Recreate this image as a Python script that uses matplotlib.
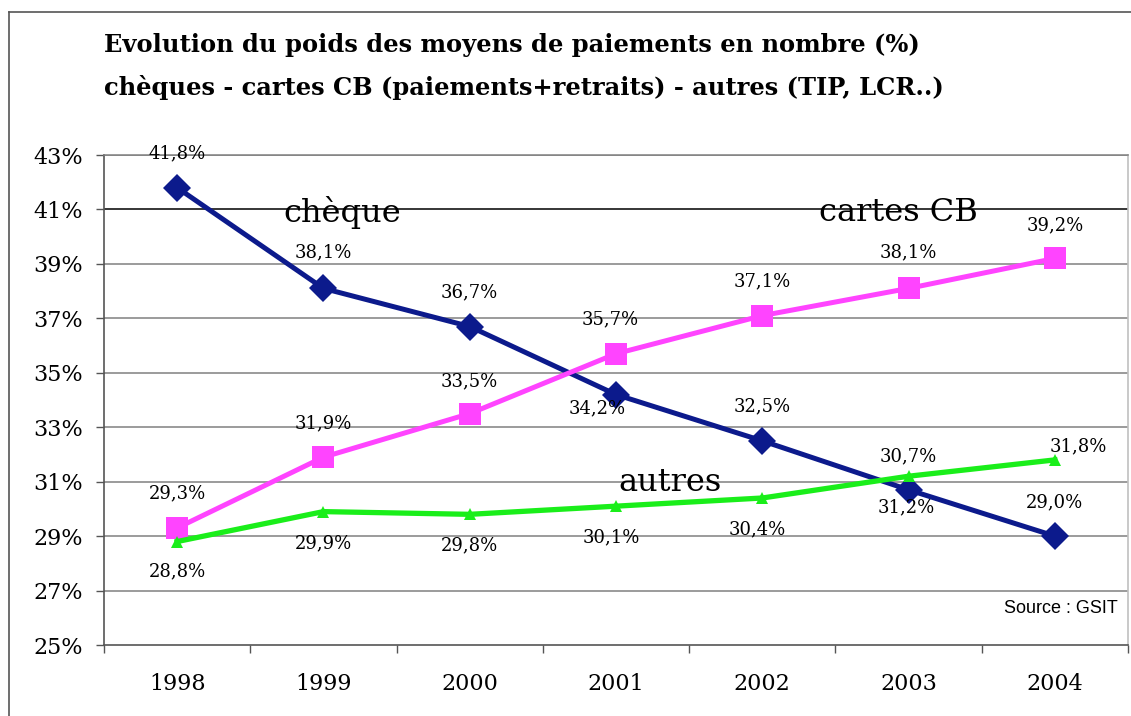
import matplotlib
matplotlib.use("Agg")
import matplotlib.pyplot as plt
from matplotlib.lines import Line2D

years = ['1998', '1999', '2000', '2001', '2002', '2003', '2004']
cheque = [41.8, 38.1, 36.7, 34.2, 32.5, 30.7, 29.0]
cartes = [29.3, 31.9, 33.5, 35.7, 37.1, 38.1, 39.2]
autres = [28.8, 29.9, 29.8, 30.1, 30.4, 31.2, 31.8]
yticks = [25, 27, 29, 31, 33, 35, 37, 39, 41, 43]

c_cheque = '#0c1a8c'
c_cartes = '#ff44ff'
c_autres = '#1aee1a'
serif = 'DejaVu Serif'

W, H = 1131, 716
fig = plt.figure(figsize=(W / 100, H / 100), dpi=100, facecolor='white')
ax = fig.add_axes([104 / W, 1 - 645 / H, (1128 - 104) / W, (645 - 155) / H])

x = list(range(len(years)))

# grid
for v in yticks[1:]:
    ax.axhline(v, color='black' if v == 41 else '#808080', lw=1.1, zorder=1)

ax.plot(x, cheque, color=c_cheque, lw=3.6, marker='D', markersize=14,
        markeredgewidth=0, zorder=3)
ax.plot(x, cartes, color=c_cartes, lw=3.6, marker='s', markersize=15.8,
        markeredgewidth=0, zorder=3)
ax.plot(x, autres, color=c_autres, lw=3.8, marker='^', markersize=8.5,
        markeredgewidth=0, zorder=3)

def lab(v):
    return ('%.1f%%' % v).replace('.', ',')

# data labels (offsets in pixels)
off_cheque = [(0, 34), (0, 36), (0, 34), (-19, -14), (0, 34), (0, 33), (0, 34)]
off_cartes = [(0, 35), (0, 34), (0, 32), (-6, 34), (0, 34), (0, 36), (0, 33)]
off_autres = [(0, -30), (0, -32), (0, -31), (-5, -31), (-5, -31), (-2, -31), (23, 14)]
for vals, offs in ((cheque, off_cheque), (cartes, off_cartes), (autres, off_autres)):
    for i, v in enumerate(vals):
        ax.annotate(lab(v), (i, v), xytext=offs[i], textcoords='offset pixels',
                    ha='center', va='center', fontsize=13, family=serif, zorder=4)

# series names
ax.text(1.13, 40.9, 'chèque', fontsize=23, family=serif, ha='center', va='center', zorder=4)
ax.text(4.93, 40.9, 'cartes CB', fontsize=23, family=serif, ha='center', va='center', zorder=4)
ax.text(3.37, 30.98, 'autres', fontsize=23, family=serif, ha='center', va='center', zorder=4)

ax.text(0.99, 0.075, 'Source : GSIT', transform=ax.transAxes, ha='right', va='center',
        fontsize=13, family='Liberation Sans')

ax.set_xlim(-0.5, len(years) - 0.5)
ax.set_ylim(25, 43)
ax.set_yticks(yticks)
ax.set_yticklabels(['%d%%' % v for v in yticks], family=serif, fontsize=16)
ax.set_xticks(x)
ax.set_xticklabels(years, family=serif, fontsize=16)
ax.set_xticks([i - 0.5 for i in range(len(years) + 1)], minor=True)
ax.tick_params(axis='x', which='major', length=0, pad=20)
ax.tick_params(axis='x', which='minor', length=6, width=1, color='#555555')
ax.tick_params(axis='y', length=6, width=1, color='#555555', pad=9)

for s in ('left', 'bottom'):
    ax.spines[s].set_color('#555555')
    ax.spines[s].set_linewidth(1.2)
ax.spines['top'].set_color('#808080')
ax.spines['top'].set_linewidth(1.1)
ax.spines['right'].set_color('#c0c0c0')
ax.spines['right'].set_linewidth(1.2)

fig.text(104 / W, 1 - 45 / H, 'Evolution du poids des moyens de paiements en nombre (%)',
         fontsize=17.4, fontweight='bold', family=serif, ha='left', va='center')
fig.text(104 / W, 1 - 88 / H, 'chèques - cartes CB (paiements+retraits) - autres (TIP, LCR..)',
         fontsize=17.4, fontweight='bold', family=serif, ha='left', va='center')

# outer frame
fig.add_artist(Line2D([9 / W, 1], [1 - 12 / H, 1 - 12 / H], color='#555555', lw=1.2))
fig.add_artist(Line2D([9 / W, 9 / W], [0, 1 - 12 / H], color='#555555', lw=1.2))

fig.savefig('out.png', dpi=100, facecolor='white')
